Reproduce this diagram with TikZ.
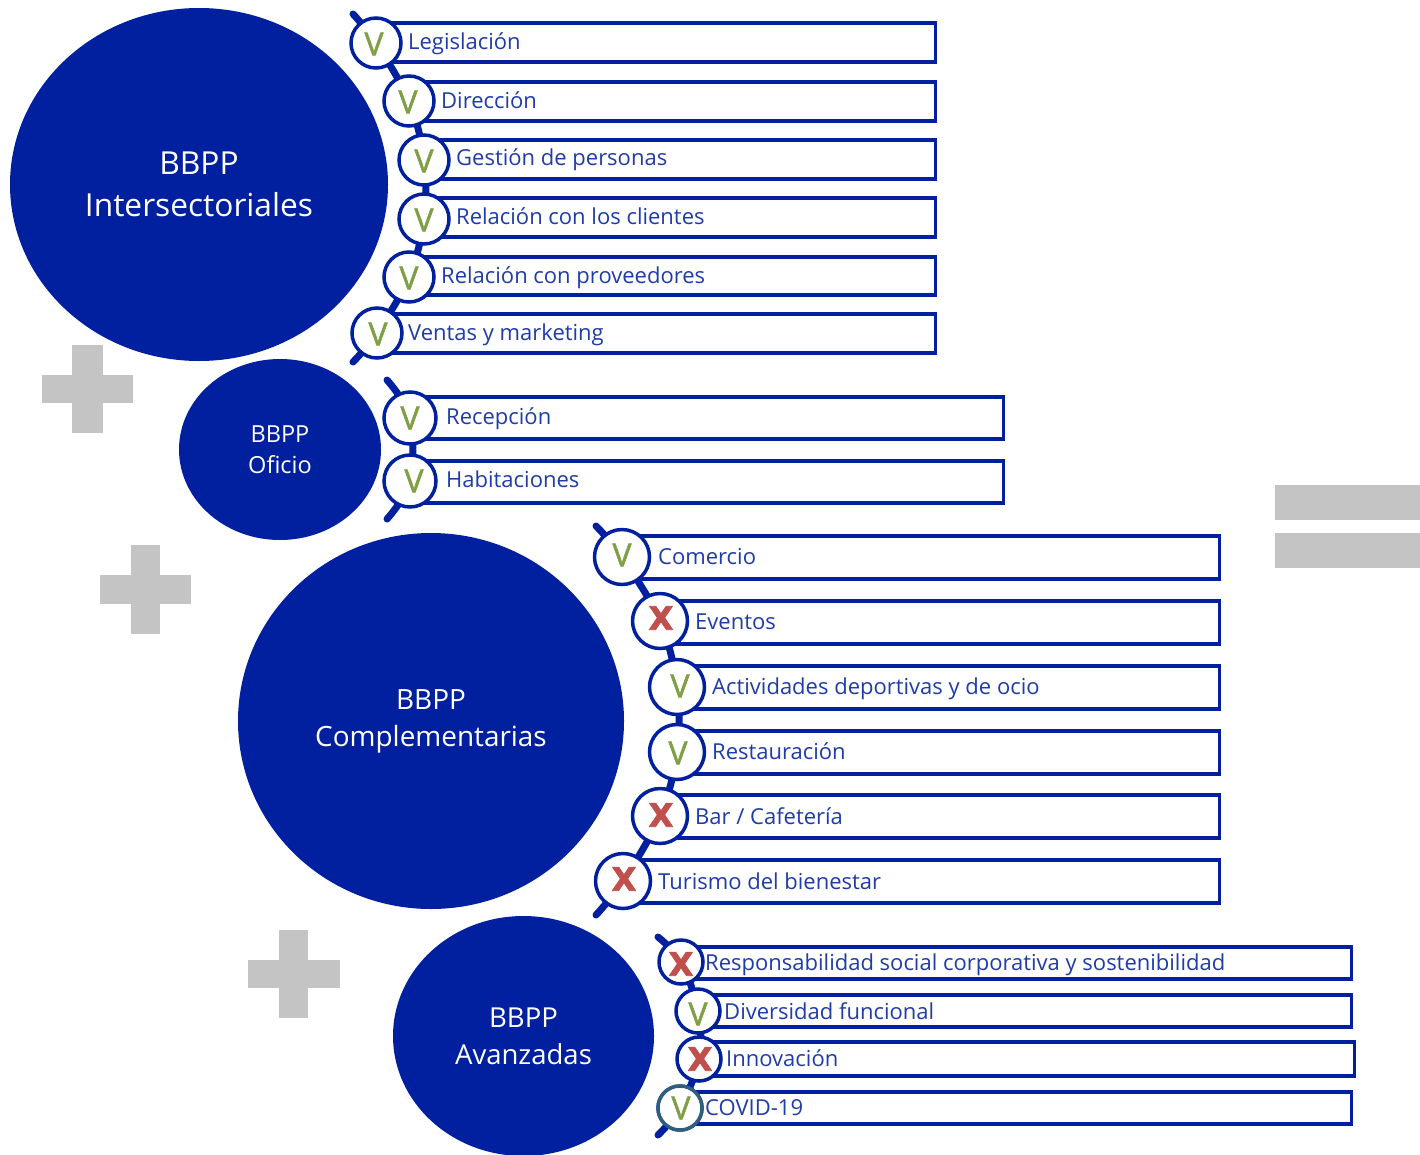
\documentclass[tikz,border=0pt]{standalone}
\usepackage{fontspec}
\usetikzlibrary{shapes.geometric}
\setmainfont{Open Sans}
\newfontfamily\vfont[FakeBold=1.5]{Open Sans}
\newfontfamily\xfont[BoldFeatures={FakeBold=2.5}]{DejaVu Sans}
\definecolor{bpblue}{HTML}{00209F}
\definecolor{txtblue}{HTML}{1F3CA8}
\definecolor{plusgrey}{HTML}{C4C4C4}
\definecolor{okgreen}{HTML}{7F9F45}
\definecolor{nored}{HTML}{C0504D}
\definecolor{tealring}{HTML}{2F5F7F}
\pgfdeclarelayer{bg}
\pgfsetlayers{bg,main}
\tikzset{
  bigcirc/.style={ellipse,fill=bpblue,text=white,align=center,inner sep=0pt},
  ring/.style={circle,draw=bpblue,line width=3.5pt,fill=white,inner sep=0pt},
  rowbox/.style={draw=bpblue,line width=3.5pt,fill=white},
  rowtext/.style={anchor=base west,inner sep=0pt,text=txtblue,font=\fontsize{22}{24}\selectfont},
  arcline/.style={draw=bpblue,line width=7pt,line cap=round},
  markv/.style={inner sep=0pt,text=okgreen,font=\vfont\fontsize{32}{32}\selectfont},
  markx/.style={inner sep=0pt,text=nored,font=\xfont\bfseries\fontsize{32}{32}\selectfont},
  greybar/.style={fill=plusgrey}
}
\begin{document}
\begin{tikzpicture}[x=1pt,y=-1pt]
\useasboundingbox (0,0) rectangle (1420,1154);
% big circles
\node[bigcirc,minimum width=378pt,minimum height=353pt,font=\fontsize{31.7}{42}\selectfont] (big1) at (199,184.5) {BBPP\\Intersectoriales};
\node[bigcirc,minimum width=202pt,minimum height=181pt,font=\fontsize{23.5}{31}\selectfont] (big2) at (280,449.5) {BBPP\\Oficio};
\node[bigcirc,minimum width=386pt,minimum height=376pt,font=\fontsize{27.9}{37}\selectfont] (big3) at (431,721) {BBPP\\Complementarias};
\node[bigcirc,minimum width=261pt,minimum height=240pt,font=\fontsize{27.5}{37}\selectfont] (big4) at (523.5,1036) {BBPP\\Avanzadas};
% plus and equals signs
\fill[greybar] (42,375) rectangle (133,403);
\fill[greybar] (72,345) rectangle (103,433);
\fill[greybar] (100,575) rectangle (191,604);
\fill[greybar] (131,545) rectangle (160,634);
\fill[greybar] (248,960) rectangle (340,988);
\fill[greybar] (279,930) rectangle (308,1018);
\fill[greybar] (1275,485) rectangle (1420,520);
\fill[greybar] (1275,533) rectangle (1420,568);
% rows
\foreach \n/\cx/\cy/\d/\t/\b/\rt/\tx/\bl/\lab/\ms/\mk/\mx/\my in {
  a1/376/43/50/23/62/935.5/408/49/{Legislación}/markv/V/374/44,
  a2/409/101/50/82/121/935.5/441/108/{Dirección}/markv/V/408/102,
  a3/424/160/50/140/179/935.5/456/165/{Gestión de personas}/markv/V/424/161,
  a4/424/219/50/198/237/935.5/456/224/{Relación con los clientes}/markv/V/424/220,
  a5/409/277/50/257/295/935.5/441/283/{Relación con proveedores}/markv/V/409/278,
  a6/377/333/50/314/353/935.5/408/340/{Ventas y marketing}/markv/V/378/334,
  b1/410/418/52/397/439/1003.5/446/424/{Recepción}/markv/V/410/418,
  b2/410/481/52/461/503/1003.5/446/487/{Habitaciones}/markv/V/414/481,
  c1/622/557/55/536/579/1219.5/658/564/{Comercio}/markv/V/622/555,
  c2/660/621/55/601/644/1219.5/695/629/{Eventos}/markx/X/661/618,
  c3/677/687/55/666/709/1219.5/712/694/{Actividades deportivas y de ocio}/markv/V/680/686,
  c4/677/752/55/731/774/1219.5/712/759/{Restauración}/markv/V/678/753,
  c5/660/816/55/795/838/1219.5/695/824/{Bar / Cafetería}/markx/X/661/815,
  c6/623/881/55/860/903/1219.5/658/889/{Turismo del bienestar}/markx/X/624/879,
  d1/681/962/44/947/979/1351.5/705/970/{Responsabilidad social corporativa y sostenibilidad}/markx/X/681/964,
  d2/698/1011/44/995/1027/1351.5/724/1019/{Diversidad funcional}/markv/V/698/1014,
  d3/699/1059/44/1042/1076/1354.5/726/1066/{Innovación}/markx/X/700/1059,
  d4/680/1108/44/1092/1124/1351.5/705/1115/{COVID-19}/markv/V/681/1108}
{
  \begin{pgfonlayer}{bg}
    \draw[rowbox] (\cx,\t) rectangle (\rt,\b);
  \end{pgfonlayer}
  \node[ring,minimum size=\d pt] (\n) at (\cx,\cy) {};
  \node[\ms] (\n m) at (\mx,\my) {\mk};
  \node[rowtext] (\n t) at (\tx,\bl) {\lab};
}
\node[ring,draw=tealring,minimum size=44pt] (d4) at (680,1108) {};
\node[markv] (d4m) at (681,1108) {V};
% free ends of the arcs
\coordinate (as) at (353,14);  \coordinate (ae) at (353,362);
\coordinate (bs) at (387,380); \coordinate (be) at (387,519);
\coordinate (cs) at (596,526); \coordinate (ce) at (596,915);
\coordinate (ds) at (658,937); \coordinate (de) at (658,1135);
\begin{pgfonlayer}{bg}
  \draw[arcline] plot[smooth,tension=.6] coordinates {(as) (a1) (a2) (a3) (a4) (a5) (a6) (ae)};
  \draw[arcline] plot[smooth,tension=.6] coordinates {(bs) (b1) (b2) (be)};
  \draw[arcline] plot[smooth,tension=.6] coordinates {(cs) (c1) (c2) (c3) (c4) (c5) (c6) (ce)};
  \draw[arcline] plot[smooth,tension=.6] coordinates {(ds) (d1) (d2) (d3) (d4) (de)};
\end{pgfonlayer}
\end{tikzpicture}
\end{document}
